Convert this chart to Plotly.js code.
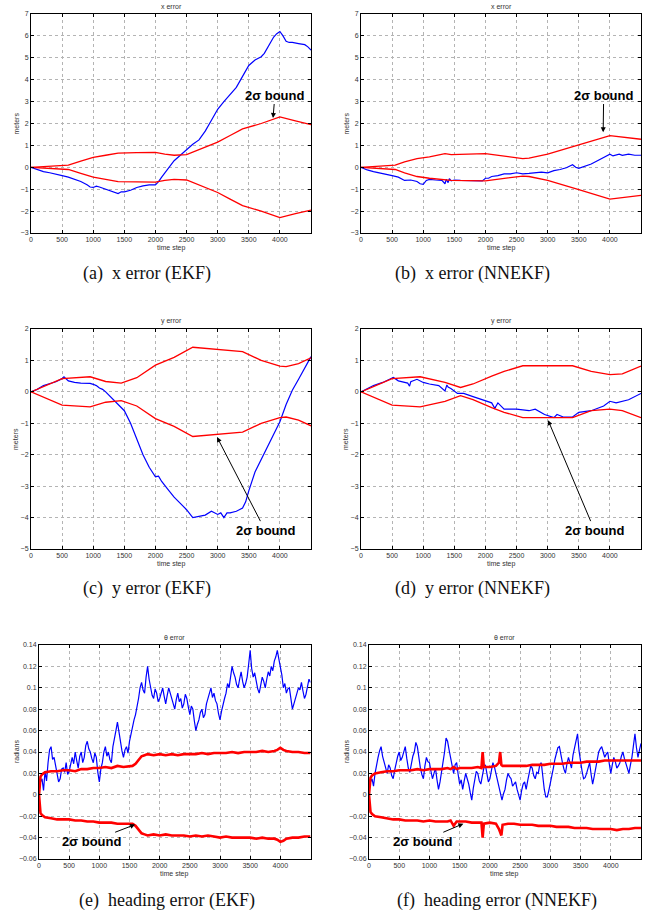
<!DOCTYPE html>
<html>
<head>
<meta charset="utf-8">
<script src="https://cdn.plot.ly/plotly-3.0.1.min.js"></script>
<style>html,body{margin:0;padding:0;background:#fff;}#chart{width:645px;height:915px;}</style>
</head>
<body>
<div id="chart"></div>
<script>
// ---------------- DATA ----------------
const xTickVals = [0,500,1000,1500,2000,2500,3000,3500,4000];
const xTickText = ["0","500","1000","1500","2000","2500","3000","3500","4000"];
const yTickValsX = [-3,-2,-1,0,1,2,3,4,5,6,7];
const yTickValsY = [-5,-4,-3,-2,-1,0,1,2];
const yTickValsH = [-0.06,-0.04,-0.02,0,0.02,0.04,0.06,0.08,0.1,0.12,0.14];
const yTickTextH = ["\u22120.06","\u22120.04","\u22120.02","0","0.02","0.04","0.06","0.08","0.1","0.12","0.14"];

// (a) x error EKF
const tA_err = [0,100,200,300,400,500,600,700,800,900,950,1000,1050,1100,1200,1300,1400,1450,1500,1600,1700,1800,1900,2000,2050,2100,2200,2300,2400,2500,2600,2700,2800,2900,3000,3100,3200,3300,3400,3500,3600,3700,3750,3800,3900,3950,4000,4050,4100,4150,4200,4300,4400,4450,4500];
const a_err = [0,-0.1,-0.2,-0.25,-0.3,-0.38,-0.45,-0.55,-0.65,-0.8,-0.9,-0.92,-0.86,-0.9,-1.0,-1.1,-1.2,-1.12,-1.12,-1.05,-0.92,-0.85,-0.8,-0.8,-0.65,-0.45,-0.1,0.3,0.55,0.82,1.05,1.25,1.65,2.15,2.65,3.0,3.3,3.65,4.15,4.65,4.9,5.05,5.2,5.45,5.95,6.1,6.2,6.0,5.75,5.7,5.7,5.65,5.6,5.5,5.35];
const tA_bnd = [0,500,600,800,1000,1200,1400,1700,2000,2150,2300,2500,2700,3000,3200,3400,3700,4000,4250,4500];
const a_up = [0,0.08,0.1,0.28,0.45,0.55,0.65,0.67,0.68,0.6,0.55,0.58,0.8,1.15,1.45,1.75,2.0,2.3,2.12,1.95];
const a_lo = [0,-0.08,-0.1,-0.28,-0.45,-0.55,-0.65,-0.67,-0.68,-0.6,-0.55,-0.58,-0.8,-1.15,-1.45,-1.75,-2.0,-2.3,-2.12,-1.95];

// (b) x error NNEKF
const tB_err = [0,100,200,300,400,500,600,700,800,900,950,1000,1050,1100,1200,1300,1350,1370,1400,1420,1450,1500,1600,1700,1800,1900,1950,2000,2050,2100,2200,2300,2400,2500,2600,2700,2800,2900,3000,3100,3200,3300,3400,3450,3500,3600,3700,3800,3900,3950,4000,4050,4100,4150,4200,4300,4400,4500];
const b_err = [0,-0.12,-0.2,-0.25,-0.3,-0.38,-0.45,-0.6,-0.58,-0.65,-0.75,-0.78,-0.6,-0.55,-0.58,-0.6,-0.75,-0.55,-0.7,-0.52,-0.62,-0.58,-0.6,-0.6,-0.62,-0.6,-0.62,-0.5,-0.5,-0.42,-0.38,-0.3,-0.3,-0.25,-0.3,-0.28,-0.25,-0.22,-0.25,-0.15,-0.1,-0.02,0.12,0.0,-0.05,0.05,0.15,0.3,0.45,0.55,0.6,0.52,0.55,0.6,0.55,0.6,0.55,0.55];
const tB_bnd = [0,500,550,700,900,1100,1350,1400,1450,2000,2300,2600,2700,3000,3500,4000,4500];
const b_up = [0,0.08,0.1,0.25,0.4,0.48,0.62,0.6,0.58,0.62,0.5,0.4,0.42,0.6,1.02,1.45,1.28];
const b_lo = [0,-0.08,-0.1,-0.25,-0.42,-0.5,-0.58,-0.6,-0.6,-0.62,-0.5,-0.4,-0.42,-0.6,-1.02,-1.45,-1.28];

// (c) y error EKF
const tC_err = [0,100,200,300,400,500,530,600,650,700,800,900,950,1000,1050,1100,1150,1200,1250,1300,1400,1500,1600,1700,1800,1900,2000,2050,2100,2200,2300,2400,2500,2600,2700,2800,2900,2950,3000,3050,3100,3150,3200,3300,3400,3450,3500,3600,3700,3800,3900,4000,4100,4200,4300,4400,4450,4500];
const c_err = [0,0.08,0.2,0.25,0.32,0.42,0.48,0.35,0.32,0.3,0.28,0.27,0.27,0.24,0.2,0.12,0.08,0.0,-0.1,-0.2,-0.4,-0.6,-1.0,-1.5,-2.0,-2.4,-2.7,-2.68,-2.85,-3.1,-3.35,-3.55,-3.75,-4.0,-3.95,-3.92,-3.8,-3.85,-3.9,-3.85,-4.0,-3.85,-3.85,-3.8,-3.7,-3.5,-3.15,-2.55,-2.15,-1.8,-1.35,-0.95,-0.4,0.05,0.4,0.75,0.95,1.12];
const tC_bnd = [0,500,950,1200,1450,1700,2000,2300,2600,3000,3400,3700,4000,4100,4300,4500];
const c_up = [0,0.42,0.48,0.33,0.28,0.45,0.85,1.1,1.42,1.35,1.28,1.0,0.82,0.8,0.9,1.08];
const c_lo = [0,-0.42,-0.48,-0.33,-0.28,-0.45,-0.85,-1.1,-1.42,-1.35,-1.28,-1.0,-0.82,-0.8,-0.9,-1.08];

// (d) y error NNEKF
const tD_err = [0,100,200,350,450,520,600,700,750,780,800,900,1000,1100,1250,1350,1380,1400,1450,1550,1650,1800,1950,2100,2150,2200,2300,2500,2700,2800,2950,3100,3150,3250,3400,3500,3700,3900,4000,4100,4300,4400,4500];
const d_err = [0,0.1,0.2,0.3,0.38,0.46,0.35,0.3,0.28,0.18,0.32,0.4,0.3,0.25,0.2,0.03,0.22,0.15,0.1,-0.05,-0.05,-0.15,-0.25,-0.35,-0.52,-0.35,-0.55,-0.55,-0.6,-0.55,-0.72,-0.82,-0.72,-0.8,-0.8,-0.65,-0.6,-0.45,-0.3,-0.35,-0.25,-0.15,-0.05];
const tD_bnd = [0,500,950,1350,1600,1800,2100,2300,2600,3400,3700,4000,4200,4500];
const d_up = [0,0.42,0.48,0.3,0.14,0.25,0.5,0.65,0.83,0.83,0.65,0.55,0.57,0.82];
const d_lo = [0,-0.42,-0.48,-0.3,-0.12,-0.25,-0.5,-0.65,-0.82,-0.82,-0.6,-0.55,-0.6,-0.82];

// (e),(f) heading error
const tHead = [0,25,50,75,100,125,150,175,200,225,250,275,300,325,350,375,400,425,450,475,500,525,550,575,600,625,650,675,700,725,750,775,800,825,850,875,900,925,950,975,1000,1025,1050,1075,1100,1125,1150,1175,1200,1225,1250,1275,1300,1325,1350,1375,1400,1425,1450,1475,1500,1525,1550,1575,1600,1625,1650,1675,1700,1725,1750,1775,1800,1825,1850,1875,1900,1925,1950,1975,2000,2025,2050,2075,2100,2125,2150,2175,2200,2225,2250,2275,2300,2325,2350,2375,2400,2425,2450,2475,2500,2525,2550,2575,2600,2625,2650,2675,2700,2725,2750,2775,2800,2825,2850,2875,2900,2925,2950,2975,3000,3025,3050,3075,3100,3125,3150,3175,3200,3225,3250,3275,3300,3325,3350,3375,3400,3425,3450,3475,3500,3525,3550,3575,3600,3625,3650,3675,3700,3725,3750,3775,3800,3825,3850,3875,3900,3925,3950,3975,4000,4025,4050,4075,4100,4125,4150,4175,4200,4225,4250,4275,4300,4325,4350,4375,4400,4425,4450,4475,4500];
const e_err = [0.003,0.012,0.015,0.004,0.022,0.013,0.03,0.042,0.045,0.033,0.035,0.026,0.02,0.012,0.015,0.024,0.025,0.021,0.03,0.019,0.022,0.03,0.035,0.029,0.04,0.032,0.025,0.036,0.04,0.03,0.035,0.046,0.05,0.043,0.04,0.034,0.03,0.039,0.035,0.021,0.012,0.024,0.03,0.04,0.045,0.036,0.04,0.033,0.03,0.045,0.055,0.06,0.068,0.058,0.05,0.041,0.035,0.042,0.045,0.039,0.05,0.058,0.065,0.07,0.075,0.082,0.09,0.1,0.105,0.098,0.095,0.11,0.12,0.108,0.1,0.093,0.09,0.099,0.095,0.087,0.09,0.094,0.1,0.092,0.085,0.093,0.1,0.095,0.09,0.084,0.08,0.089,0.095,0.087,0.09,0.081,0.085,0.094,0.09,0.082,0.075,0.083,0.08,0.069,0.06,0.066,0.07,0.077,0.08,0.072,0.075,0.085,0.09,0.096,0.1,0.091,0.095,0.088,0.085,0.076,0.07,0.078,0.085,0.09,0.095,0.104,0.1,0.112,0.12,0.114,0.11,0.103,0.1,0.108,0.115,0.106,0.1,0.104,0.11,0.122,0.135,0.118,0.11,0.114,0.105,0.099,0.095,0.103,0.11,0.106,0.1,0.108,0.115,0.111,0.12,0.116,0.125,0.129,0.135,0.127,0.12,0.112,0.1,0.104,0.095,0.099,0.1,0.089,0.08,0.085,0.09,0.096,0.1,0.098,0.105,0.097,0.09,0.094,0.1,0.108,0.105];
const f_err = [0.005,0.012,0.015,0.008,0.02,0.026,0.035,0.041,0.045,0.036,0.03,0.024,0.02,0.028,0.025,0.018,0.015,0.023,0.03,0.036,0.04,0.032,0.035,0.041,0.045,0.034,0.025,0.021,0.03,0.036,0.04,0.049,0.045,0.033,0.025,0.019,0.015,0.027,0.035,0.031,0.03,0.022,0.015,0.02,0.025,0.014,0.005,0.012,0.02,0.031,0.04,0.053,0.05,0.042,0.035,0.026,0.02,0.028,0.03,0.019,0.01,0.014,0.005,0.013,0.02,0.015,0.01,0.002,-0.005,0.006,0.015,0.022,0.02,0.013,0.01,0.018,0.025,0.028,0.02,0.012,0.015,0.024,0.03,0.026,0.02,0.014,0.01,0.003,-0.005,0.001,0.005,0.014,0.02,0.017,0.015,0.008,0.01,0.012,0.005,0.001,-0.005,0.004,0.01,0.012,0.005,0.013,0.02,0.027,0.025,0.018,0.015,0.021,0.02,0.028,0.03,0.015,0.005,-0.002,-0.002,0.004,0.01,0.018,0.025,0.033,0.04,0.044,0.045,0.036,0.03,0.024,0.02,0.029,0.035,0.03,0.025,0.037,0.045,0.05,0.057,0.041,0.03,0.022,0.015,0.016,0.02,0.026,0.03,0.019,0.01,0.017,0.025,0.034,0.04,0.043,0.045,0.04,0.035,0.038,0.04,0.029,0.02,0.028,0.035,0.031,0.025,0.027,0.03,0.036,0.04,0.034,0.03,0.024,0.02,0.028,0.035,0.046,0.057,0.044,0.035,0.042,0.048];
const tE_bnd = [0,10,25,50,100,200,300,400,500,600,700,800,900,1000,1100,1200,1300,1400,1500,1550,1600,1650,1700,1750,1800,1900,2000,2100,2200,2300,2400,2500,2600,2700,2800,2900,3000,3100,3200,3300,3400,3500,3600,3700,3800,3900,3950,4000,4050,4100,4200,4300,4400,4500];
const e_up = [0,0.012,0.017,0.019,0.021,0.022,0.022,0.023,0.023,0.022,0.024,0.024,0.025,0.025,0.026,0.025,0.027,0.026,0.027,0.027,0.029,0.033,0.036,0.037,0.038,0.037,0.038,0.037,0.038,0.037,0.038,0.038,0.038,0.039,0.038,0.039,0.039,0.039,0.04,0.039,0.04,0.04,0.04,0.041,0.04,0.041,0.042,0.044,0.042,0.041,0.04,0.04,0.039,0.039];
const e_lo = [0,-0.012,-0.017,-0.019,-0.021,-0.022,-0.023,-0.023,-0.023,-0.024,-0.024,-0.025,-0.025,-0.026,-0.026,-0.026,-0.027,-0.027,-0.027,-0.027,-0.029,-0.033,-0.036,-0.037,-0.038,-0.037,-0.038,-0.037,-0.038,-0.038,-0.038,-0.039,-0.038,-0.039,-0.038,-0.039,-0.04,-0.039,-0.04,-0.04,-0.04,-0.04,-0.041,-0.04,-0.041,-0.041,-0.042,-0.044,-0.043,-0.041,-0.04,-0.04,-0.039,-0.039];
const tF_bnd = [0,10,25,50,100,200,300,400,500,600,700,800,900,1000,1100,1200,1300,1350,1400,1450,1500,1600,1700,1800,1860,1880,1900,2000,2100,2150,2170,2190,2210,2300,2400,2500,2600,2700,2800,2900,3000,3100,3200,3300,3400,3500,3600,3700,3800,3900,4000,4100,4200,4300,4400,4500];
const f_up = [0,0.012,0.016,0.018,0.02,0.021,0.022,0.022,0.023,0.023,0.023,0.024,0.023,0.024,0.024,0.024,0.025,0.024,0.026,0.024,0.025,0.025,0.025,0.026,0.025,0.04,0.026,0.026,0.027,0.03,0.04,0.028,0.027,0.027,0.027,0.027,0.027,0.028,0.028,0.028,0.029,0.029,0.029,0.03,0.03,0.03,0.031,0.031,0.031,0.032,0.032,0.032,0.032,0.032,0.032,0.032];
const f_lo = [0,-0.012,-0.016,-0.018,-0.02,-0.021,-0.022,-0.023,-0.023,-0.024,-0.024,-0.024,-0.025,-0.024,-0.025,-0.025,-0.025,-0.024,-0.029,-0.025,-0.025,-0.025,-0.026,-0.026,-0.026,-0.04,-0.027,-0.026,-0.027,-0.032,-0.036,-0.038,-0.028,-0.027,-0.027,-0.028,-0.028,-0.028,-0.029,-0.029,-0.029,-0.03,-0.03,-0.03,-0.031,-0.031,-0.031,-0.032,-0.032,-0.032,-0.032,-0.033,-0.032,-0.032,-0.031,-0.031];

const titles = ["x error","x error","y error","y error","\u03b8 error","\u03b8 error"];
const yLabels = ["meters","meters","meters","meters","radians","radians"];
const captions = ["(a)\u00a0 x error (EKF)","(b)\u00a0 x error (NNEKF)","(c)\u00a0 y error (EKF)","(d)\u00a0 y error (NNEKF)","(e)\u00a0 heading error (EKF)","(f)\u00a0 heading error (NNEKF)"];
const boundLabel = "2\u03c3 bound";

// ---------------- LAYOUT ----------------
const W = 645, H = 915;
const PX = v => v / W;
const PY = v => 1 - v / H;
// plot boxes in pixels [left,right,top,bottom]
const boxes = [
  [31, 311, 14, 233],
  [361, 641, 14, 233],
  [31, 311, 329, 549],
  [361, 641, 329, 549],
  [39, 310.5, 645, 859],
  [369, 641, 645, 859]
];
const yRanges = [[-3,7],[-3,7],[-5,2],[-5,2],[-0.06,0.14],[-0.06,0.14]];
const yTicks = [yTickValsX, yTickValsX, yTickValsY, yTickValsY, yTickValsH, yTickValsH];

const BLUE = '#0000ff', RED = '#ff0000';
const series = [
  {t: tA_err, e: a_err, tb: tA_bnd, up: a_up, lo: a_lo, rw: 1.3},
  {t: tB_err, e: b_err, tb: tB_bnd, up: b_up, lo: b_lo, rw: 1.3},
  {t: tC_err, e: c_err, tb: tC_bnd, up: c_up, lo: c_lo, rw: 1.3},
  {t: tD_err, e: d_err, tb: tD_bnd, up: d_up, lo: d_lo, rw: 1.3},
  {t: tHead, e: e_err, tb: tE_bnd, up: e_up, lo: e_lo, rw: 2.6},
  {t: tHead, e: f_err, tb: tF_bnd, up: f_up, lo: f_lo, rw: 2.6}
];

const traces = [];
const layout = {
  width: W, height: H,
  margin: {l: 0, r: 0, t: 0, b: 0},
  paper_bgcolor: '#fff', plot_bgcolor: '#fff',
  showlegend: false,
  font: {family: 'Liberation Sans, Arial, sans-serif', color: '#222'},
  annotations: []
};

const fontSmall = {family: 'Liberation Sans, Arial, sans-serif', size: 7, color: '#333'};

series.forEach((s, i) => {
  const n = i === 0 ? '' : String(i + 1);
  const xa = 'x' + n, ya = 'y' + n;
  traces.push({x: s.t, y: s.e, xaxis: xa, yaxis: ya, type: 'scatter', mode: 'lines',
               line: {color: BLUE, width: 1.2}, hoverinfo: 'skip'});
  traces.push({x: s.tb, y: s.up, xaxis: xa, yaxis: ya, type: 'scatter', mode: 'lines',
               line: {color: RED, width: s.rw}, hoverinfo: 'skip'});
  traces.push({x: s.tb, y: s.lo, xaxis: xa, yaxis: ya, type: 'scatter', mode: 'lines',
               line: {color: RED, width: s.rw}, hoverinfo: 'skip'});

  const b = boxes[i];
  const common = {
    showline: true, mirror: 'ticks', linecolor: '#000', linewidth: 1,
    ticks: 'inside', ticklen: 3, tickcolor: '#000', tickwidth: 1,
    showgrid: true, gridcolor: '#b4b4b4', gridwidth: 1, griddash: 'dot',
    zeroline: false, tickfont: fontSmall, fixedrange: true
  };
  layout['xaxis' + n] = Object.assign({}, common, {
    domain: [PX(b[0]), PX(b[1])], anchor: ya, range: [0, 4500],
    tickmode: 'array', tickvals: xTickVals, ticktext: xTickText
  });
  const yax = Object.assign({}, common, {
    domain: [PY(b[3]), PY(b[2])], anchor: xa, range: yRanges[i],
    tickmode: 'array', tickvals: yTicks[i]
  });
  if (i >= 4) yax.ticktext = yTickTextH;
  layout['yaxis' + n] = yax;

  const cx = (b[0] + b[1]) / 2;
  layout.annotations.push({xref: 'paper', yref: 'paper', x: PX(cx), y: PY(b[2] - 8),
    text: titles[i], showarrow: false, font: fontSmall, xanchor: 'center', yanchor: 'middle'});
  layout.annotations.push({xref: 'paper', yref: 'paper', x: PX(cx), y: PY(b[3] + 15),
    text: 'time step', showarrow: false, font: fontSmall, xanchor: 'center', yanchor: 'middle'});
  layout.annotations.push({xref: 'paper', yref: 'paper', x: PX(i % 2 === 0 ? 16 : 346), y: PY((b[2] + b[3]) / 2),
    text: yLabels[i], showarrow: false, font: fontSmall, textangle: -90, xanchor: 'center', yanchor: 'middle'});
});

// captions
const capPos = [[147, 273], [472, 273], [147, 588], [472, 588], [167, 900], [497, 900]];
captions.forEach((c, i) => {
  layout.annotations.push({xref: 'paper', yref: 'paper', x: PX(capPos[i][0]), y: PY(capPos[i][1]),
    text: c, showarrow: false, xanchor: 'center', yanchor: 'middle',
    font: {family: 'Liberation Serif, Times New Roman, serif', size: 18, color: '#111'}});
});

// 2-sigma bound arrows: [head x, head y, text x, text y]
const arrows = [
  [3890, 2.25, 3920, 3.3],
  [3892, 1.6, 3900, 3.3],
  [2990, -1.44, 3762, -4.4],
  [3006, -0.9, 3752, -4.4],
  [1593, -0.0278, 875, -0.0434],
  [1561, -0.027, 880, -0.0434]
];
arrows.forEach((a, i) => {
  const n = i === 0 ? '' : String(i + 1);
  layout.annotations.push({xref: 'x' + n, yref: 'y' + n, axref: 'x' + n, ayref: 'y' + n,
    x: a[0], y: a[1], ax: a[2], ay: a[3], text: '<b>' + boundLabel + '</b>',
    showarrow: true, arrowhead: 2, arrowsize: 1, arrowwidth: 1, arrowcolor: '#000', standoff: 0,
    font: {family: 'Liberation Sans, Arial, sans-serif', size: 13, color: '#000'}});
});

Plotly.newPlot('chart', traces, layout, {staticPlot: true, displayModeBar: false});
</script>
</body>
</html>
